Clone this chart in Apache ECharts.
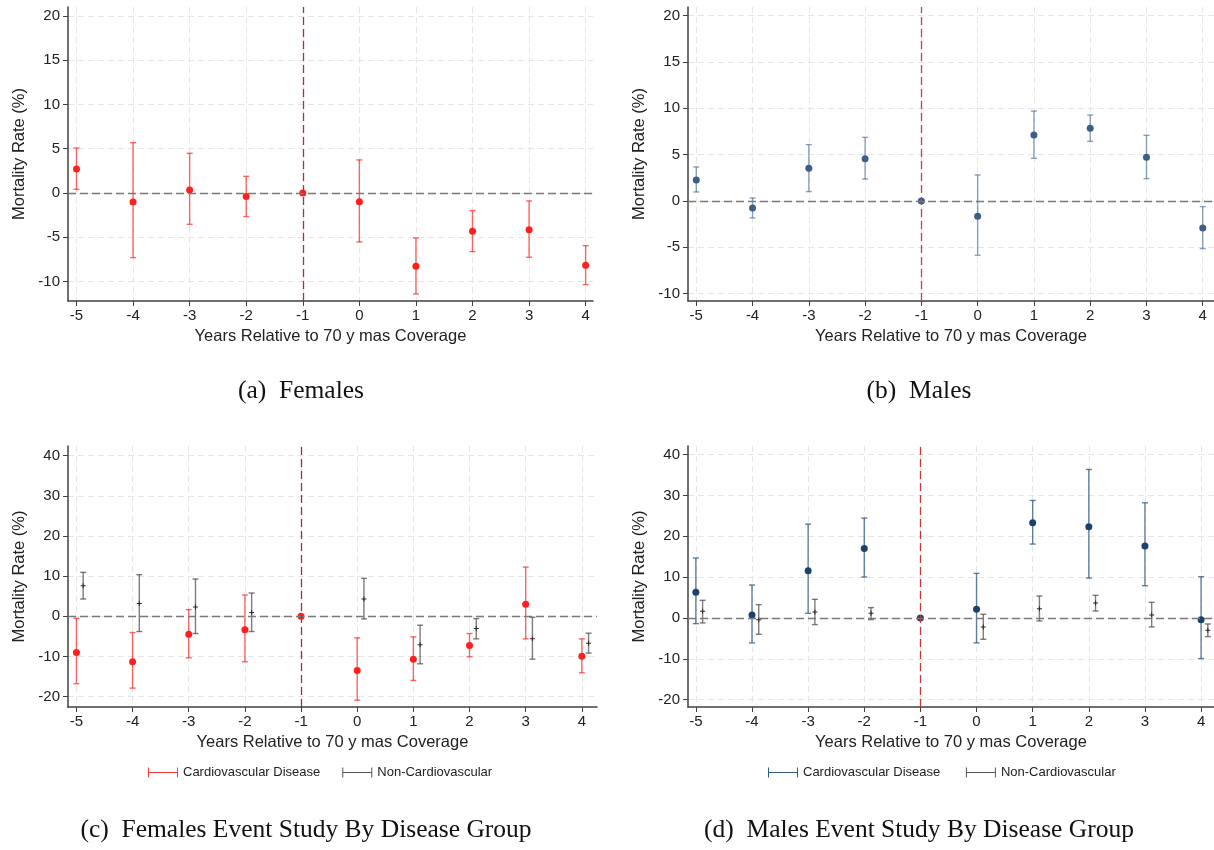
<!DOCTYPE html>
<html>
<head>
<meta charset="utf-8">
<script src="https://cdn.jsdelivr.net/npm/echarts@6/dist/echarts.min.js"></script>
<style>
  html, body { margin: 0; padding: 0; background: #fff; }
  #chart { width: 1214px; height: 850px; }
</style>
</head>
<body>
<div id="chart"></div>
<script>
// years relative to coverage (x positions of the estimates)
var years = [-5, -4, -3, -2, -1, 0, 1, 2, 3, 4];
var xTicks = [-5, -4, -3, -2, -1, 0, 1, 2, 3, 4];
var yTicksTop = [-10, -5, 0, 5, 10, 15, 20];
var yTicksBottom = [-20, -10, 0, 10, 20, 30, 40];

// (a) Females
var femEst = [2.71, -1.02, 0.34, -0.41, 0, -0.98, -8.28, -4.33, -4.14, -8.17];
var femLo  = [0.41, -7.30, -3.54, -2.67, null, -5.53, -11.40, -6.62, -7.26, -10.35];
var femHi  = [5.08, 5.68, 4.48, 1.88, null, 3.73, -5.08, -1.99, -0.90, -5.95];

// (b) Males
var maleEst = [2.27, -0.76, 3.53, 4.57, 0, -1.65, 7.12, 7.84, 4.71, -2.91];
var maleLo  = [0.97, -1.83, 1.01, 2.37, null, -5.86, 4.60, 6.44, 2.41, -5.14];
var maleHi  = [3.67, 0.32, 6.08, 6.87, null, 2.81, 9.71, 9.28, 7.09, -0.61];

// (c) Females by disease group
var femCvdEst = [-9.02, -11.34, -4.47, -3.39, 0, -13.5, -10.68, -7.28, 2.98, -9.93];
var femCvdLo  = [-16.8, -17.9, -10.35, -11.34, null, -20.9, -15.98, -10.10, -5.63, -14.07];
var femCvdHi  = [-0.50, -4.06, 1.66, 5.30, null, -5.38, -5.13, -4.30, 12.25, -5.63];
var femNonEst = [7.62, 3.15, 2.32, 0.91, null, 4.30, -7.12, -3.06, -5.63, -6.71];
var femNonLo  = [4.30, -3.81, -4.30, -3.81, null, -0.66, -11.84, -5.63, -10.68, -9.19];
var femNonHi  = [10.93, 10.35, 9.27, 5.79, null, 9.44, -2.24, -0.58, -0.25, -4.22];

// (d) Males by disease group
var maleCvdEst = [6.28, 0.73, 11.57, 17.03, 0, 2.12, 23.31, 22.33, 17.60, -0.41];
var maleCvdLo  = [-1.39, -6.11, 1.14, 10.02, null, -6.11, 18.09, 9.78, 7.90, -9.94];
var maleCvdHi  = [14.67, 8.07, 22.98, 24.45, null, 10.92, 28.77, 36.35, 28.20, 10.11];
var maleNonEst = [1.63, -0.41, 1.47, 1.14, null, -2.20, 2.28, 3.67, 0.73, -3.02];
var maleNonLo  = [-1.22, -3.99, -1.63, -0.41, null, -5.22, -0.73, 1.71, -2.20, -4.56];
var maleNonHi  = [4.32, 3.26, 4.56, 2.53, null, 0.90, 5.38, 5.54, 3.83, -1.47];

var NON_SHIFT = 0.12; // non-cardiovascular estimates are drawn slightly right of the year

var FONT = '"Liberation Sans", Arial, sans-serif';
var SERIF = '"Liberation Serif", "Times New Roman", serif';

var chart = echarts.init(document.getElementById('chart'), null, { renderer: 'canvas' });

function pts(est, shift) {
    var out = [];
    for (var i = 0; i < years.length; i++) {
        if (est[i] === null) continue;
        out.push([years[i] + shift, est[i]]);
    }
    return out;
}

function bars(lo, hi, shift) {
    var out = [];
    for (var i = 0; i < years.length; i++) {
        if (lo[i] === null || hi[i] === null) continue;
        out.push([years[i] + shift, lo[i], hi[i]]);
    }
    return out;
}

function capRenderer(color) {
    return function (params, api) {
        var x = api.value(0);
        var a = api.coord([x, api.value(1)]);
        var b = api.coord([x, api.value(2)]);
        var w = 3;
        var st = { stroke: color, lineWidth: 1.4 };
        return {
            type: 'group',
            children: [
                { type: 'line', shape: { x1: a[0], y1: a[1], x2: b[0], y2: b[1] }, style: st },
                { type: 'line', shape: { x1: a[0] - w, y1: a[1], x2: a[0] + w, y2: a[1] }, style: st },
                { type: 'line', shape: { x1: b[0] - w, y1: b[1], x2: b[0] + w, y2: b[1] }, style: st }
            ]
        };
    };
}

var grids = [
    { left: 68, top: 7, width: 525, height: 294 },
    { left: 688, top: 7, width: 526, height: 294 },
    { left: 68, top: 446, width: 529, height: 261 },
    { left: 688, top: 446, width: 526, height: 261 }
];
var xRange = [[-5.15, 4.13], [-5.147, 4.2], [-5.15, 4.27], [-5.14, 4.23]];
var yRange = [[-12.2, 21], [-10.8, 20.94], [-22.6, 42.4], [-21.8, 42.1]];
var yTickSets = [yTicksTop, yTicksTop, yTicksBottom, yTicksBottom];
var vlineColors = ['#9c3a3a', '#c4404c', '#8e3a3a', '#c8383a'];

var xAxes = [], yAxes = [];
for (var g = 0; g < 4; g++) {
    xAxes.push({
        type: 'value', gridIndex: g, min: xRange[g][0], max: xRange[g][1],
        name: 'Years Relative to 70 y mas Coverage', nameLocation: 'middle', nameGap: 27,
        nameTextStyle: { fontFamily: FONT, fontSize: 16.5, color: '#222' },
        axisLine: { show: true, onZero: false, lineStyle: { color: '#404040', width: 1.5 } },
        axisTick: { show: true, length: 5, customValues: xTicks, lineStyle: { color: '#404040' } },
        axisLabel: { customValues: xTicks, margin: 7, fontFamily: FONT, fontSize: 15, color: '#222' },
        splitLine: { show: true, lineStyle: { color: '#e6e6e6', type: [6, 4], width: 1 } }
    });
    yAxes.push({
        type: 'value', gridIndex: g, min: yRange[g][0], max: yRange[g][1],
        name: 'Mortality Rate (%)', nameLocation: 'middle', nameGap: 40,
        nameTextStyle: { fontFamily: FONT, fontSize: 16.5, color: '#222' },
        axisLine: { show: true, onZero: false, lineStyle: { color: '#404040', width: 1.5 } },
        axisTick: { show: true, length: 5, customValues: yTickSets[g], lineStyle: { color: '#404040' } },
        axisLabel: { customValues: yTickSets[g], margin: 8, fontFamily: FONT, fontSize: 15, color: '#222' },
        splitLine: { show: true, lineStyle: { color: '#e6e6e6', type: [6, 4], width: 1 } }
    });
}

function refLines(g) {
    return {
        silent: true, symbol: 'none', label: { show: false },
        data: [
            { yAxis: 0, lineStyle: { color: '#7a7a7a', type: [8, 4], width: 1.4 } },
            { xAxis: -1, lineStyle: { color: vlineColors[g], type: [8, 4], width: 1.3 } }
        ]
    };
}

var plusIcon = 'path://M2,0L3,0L3,2L5,2L5,3L3,3L3,5L2,5L2,3L0,3L0,2L2,2Z';
var capIcon = 'path://M0,0L1,0L1,4.5L29,4.5L29,0L30,0L30,10L29,10L29,5.5L1,5.5L1,10L0,10Z';

var RED = '#ff1f1f', RED_BAR = 'rgba(255,45,45,0.72)';
var BLUE_B = '#3d5e86', BLUE_B_BAR = 'rgba(70,105,145,0.62)';
var NAVY = '#1b416c', NAVY_BAR = 'rgba(45,85,130,0.75)';
var GREY = '#2a2a2a', GREY_BAR = 'rgba(70,70,70,0.7)';

function group(g, name, est, lo, hi, shift, color, barColor, symbol, size, withRef) {
    var s = [
        {
            name: name, type: 'custom', xAxisIndex: g, yAxisIndex: g,
            renderItem: capRenderer(barColor), data: bars(lo, hi, shift),
            itemStyle: { color: barColor }, z: 2, silent: true
        },
        {
            name: name, type: 'scatter', xAxisIndex: g, yAxisIndex: g,
            data: pts(est, shift), symbol: symbol, symbolSize: size,
            itemStyle: { color: color, opacity: 1 }, z: 4, silent: true
        }
    ];
    if (withRef) s[1].markLine = refLines(g);
    return s;
}

var series = [].concat(
    group(0, 'Females', femEst, femLo, femHi, 0, RED, RED_BAR, 'circle', 7, true),
    group(1, 'Males', maleEst, maleLo, maleHi, 0, BLUE_B, BLUE_B_BAR, 'circle', 7, true),
    group(2, 'Cardiovascular Disease', femCvdEst, femCvdLo, femCvdHi, 0, RED, RED_BAR, 'circle', 7, true),
    group(2, 'Non-Cardiovascular', femNonEst, femNonLo, femNonHi, NON_SHIFT, GREY, GREY_BAR, plusIcon, 5, false),
    group(3, 'Cardiovascular Disease ', maleCvdEst, maleCvdLo, maleCvdHi, 0, NAVY, NAVY_BAR, 'circle', 7, true),
    group(3, 'Non-Cardiovascular ', maleNonEst, maleNonLo, maleNonHi, NON_SHIFT, GREY, GREY_BAR, plusIcon, 5, false)
);

var legendText = { fontFamily: FONT, fontSize: 13, color: '#222' };
var legends = [
    {
        left: 148, top: 766, itemWidth: 30, itemHeight: 10, itemGap: 22, padding: 0,
        textStyle: legendText, selectedMode: false,
        data: [
            { name: 'Cardiovascular Disease', icon: capIcon, itemStyle: { color: '#ff3a3a' } },
            { name: 'Non-Cardiovascular', icon: capIcon, itemStyle: { color: '#555' } }
        ]
    },
    {
        left: 768, top: 766, itemWidth: 30, itemHeight: 10, itemGap: 22, padding: 0,
        textStyle: legendText, selectedMode: false,
        data: [
            { name: 'Cardiovascular Disease ', icon: capIcon, itemStyle: { color: '#2f5884' } },
            { name: 'Non-Cardiovascular ', icon: capIcon, itemStyle: { color: '#555' } }
        ]
    }
];

var captions = [
    { text: '(a)  Females', x: 301, y: 391 },
    { text: '(b)  Males', x: 919, y: 391 },
    { text: '(c)  Females Event Study By Disease Group', x: 306, y: 830 },
    { text: '(d)  Males Event Study By Disease Group', x: 919, y: 830 }
];

chart.setOption({
    animation: false,
    backgroundColor: '#fff',
    grid: grids,
    xAxis: xAxes,
    yAxis: yAxes,
    legend: legends,
    series: series,
    graphic: captions.map(function (c) {
        return {
            type: 'text', x: c.x, y: c.y, silent: true,
            style: {
                text: c.text, fill: '#111', font: '25.5px ' + SERIF,
                textAlign: 'center', textVerticalAlign: 'middle'
            }
        };
    })
});
</script>
</body>
</html>
